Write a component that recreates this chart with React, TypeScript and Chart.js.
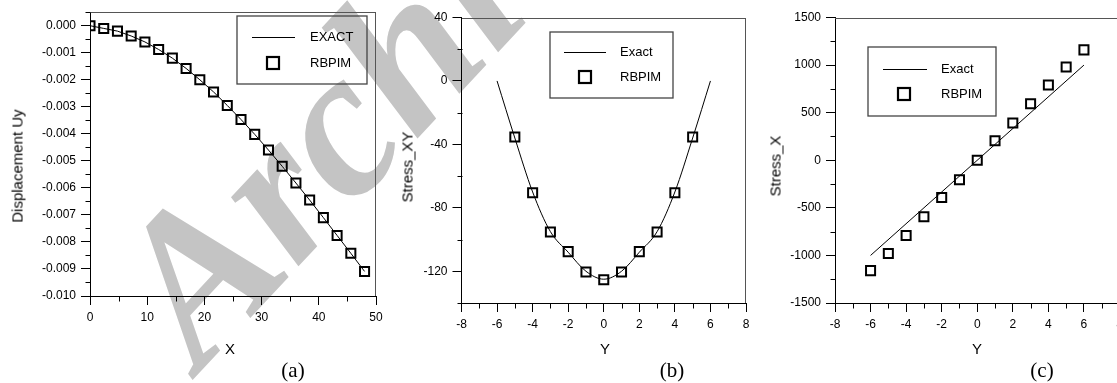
import React, { useEffect, useRef } from 'react';
import { Chart, registerables } from 'chart.js';

Chart.register(...registerables);

// ---------- Panel (a): Displacement Uy vs X ----------
const A_X = [0, 2.4, 4.8, 7.2, 9.6, 12, 14.4, 16.8, 19.2, 21.6, 24, 26.4, 28.8, 31.2, 33.6, 36, 38.4, 40.8, 43.2, 45.6, 48];
const A_RBPIM = [0, -0.0001, -0.0002, -0.00038, -0.0006, -0.00088, -0.0012, -0.00158, -0.002, -0.00245, -0.00295, -0.00347, -0.00402, -0.0046, -0.0052, -0.00582, -0.00645, -0.0071, -0.00776, -0.00842, -0.00909];
const A_EXACT = [0, -0.0001, -0.0002, -0.00038, -0.0006, -0.00088, -0.0012, -0.00158, -0.002, -0.00245, -0.00295, -0.00347, -0.00402, -0.0046, -0.0052, -0.00582, -0.00645, -0.0071, -0.00776, -0.00842, -0.00909];
const A_X_TICKS = [0, 10, 20, 30, 40, 50];
const A_X_MINOR = [5, 15, 25, 35, 45];
const A_Y_TICKS = [0, -0.001, -0.002, -0.003, -0.004, -0.005, -0.006, -0.007, -0.008, -0.009, -0.01];
const A_Y_MINOR = [0.0005, -0.0005, -0.0015, -0.0025, -0.0035, -0.0045, -0.0055, -0.0065, -0.0075, -0.0085, -0.0095];

// ---------- Panel (b): Stress_XY vs Y ----------
const B_Y_EXACT = [-6, -5, -4, -3, -2, -1, 0, 1, 2, 3, 4, 5, 6];
const B_EXACT = [0, -36, -70, -95, -108, -120, -125, -120, -108, -95, -70, -36, 0];
const B_Y_PTS = [-5, -4, -3, -2, -1, 0, 1, 2, 3, 4, 5];
const B_RBPIM = [-35.4, -70.5, -95.2, -107.6, -120.4, -125.3, -120.4, -107.6, -95.2, -70.5, -35.4];
const B_X_TICKS = [-8, -6, -4, -2, 0, 2, 4, 6, 8];
const B_X_MINOR = [-7, -5, -3, -1, 1, 3, 5, 7];
const B_Y_TICKS = [40, 0, -40, -80, -120];
const B_Y_MINOR = [20, -20, -60, -100, -140];

// ---------- Panel (c): Stress_X vs Y ----------
const C_Y_EXACT = [-6, 6];
const C_EXACT = [-1000, 1000];
const C_Y_PTS = [-6, -5, -4, -3, -2, -1, 0, 1, 2, 3, 4, 5, 6];
const C_RBPIM = [-1160, -980, -790, -593, -392, -205, 0, 205, 392, 593, 790, 980, 1160];
const C_X_TICKS = [-8, -6, -4, -2, 0, 2, 4, 6, 8];
const C_X_MINOR = [-7, -5, -3, -1, 1, 3, 5, 7];
const C_Y_TICKS = [1500, 1000, 500, 0, -500, -1000, -1500];
const C_Y_MINOR = [1250, 750, 250, -250, -750, -1250];

const SANS = '"Liberation Sans", Arial, sans-serif';
const SERIF = '"Liberation Serif", "Times New Roman", serif';

const framePlugin = {
  id: 'frame',
  afterDraw(chart: any, _args: any, opts: any) {
    const { ctx, chartArea } = chart;
    const { left, right, top, bottom } = chartArea;
    const xs = chart.scales.x;
    const ys = chart.scales.y;
    ctx.save();
    ctx.strokeStyle = '#555';
    ctx.lineWidth = 1;
    ctx.beginPath();
    const t = Math.round(top) + 0.5;
    const r = Math.round(right) - 0.5;
    ctx.moveTo(Math.round(left), t);
    ctx.lineTo(Math.round(right), t);
    ctx.moveTo(r, t);
    ctx.lineTo(r, Math.round(bottom));
    ctx.stroke();
    ctx.strokeStyle = '#000';
    ctx.beginPath();
    const b = Math.round(bottom) + 0.5;
    const l = Math.round(left) + 0.5;
    (opts.xMinor || []).forEach((v: number) => {
      const px = Math.round(xs.getPixelForValue(v)) + 0.5;
      ctx.moveTo(px, b);
      ctx.lineTo(px, b + 5);
    });
    (opts.yMinor || []).forEach((v: number) => {
      const py = Math.round(ys.getPixelForValue(v)) + 0.5;
      ctx.moveTo(l, py);
      ctx.lineTo(l - 5, py);
    });
    ctx.stroke();
    const lg = opts.legend;
    if (lg) {
      const ds = chart.data.datasets;
      ctx.strokeStyle = '#444';
      ctx.lineWidth = 1.3;
      ctx.strokeRect(lg.x, lg.y, lg.w, lg.h);
      ctx.strokeStyle = '#000';
      ctx.lineWidth = 1;
      ctx.beginPath();
      ctx.moveTo(lg.lineX1, lg.row1 + 0.5);
      ctx.lineTo(lg.lineX2, lg.row1 + 0.5);
      ctx.stroke();
      ctx.lineWidth = 2.2;
      ctx.strokeRect(lg.sqX - 6, lg.row2 - 6, 12, 12);
      ctx.fillStyle = '#000';
      ctx.font = `13px ${SANS}`;
      ctx.textBaseline = 'middle';
      ctx.textAlign = 'left';
      ctx.fillText(ds[0].label, lg.textX, lg.row1);
      ctx.fillText(ds[1].label, lg.textX, lg.row2);
    }
    ctx.restore();
  },
};

type PanelProps = {
  left: number;
  width: number;
  height: number;
  padTop: number;
  padRight: number;
  yWidth: number;
  xHeight: number;
  xMin: number;
  xMax: number;
  yMin: number;
  yMax: number;
  xTicks: number[];
  xMinor: number[];
  yTicks: number[];
  yMinor: number[];
  yFmt: (v: number) => string;
  lineX: number[];
  lineY: number[];
  ptsX: number[];
  ptsY: number[];
  labels: string[];
  smooth: boolean;
  legend: any;
};

function Panel(p: PanelProps) {
  const ref = useRef<HTMLCanvasElement | null>(null);
  useEffect(() => {
    if (!ref.current) return;
    const tickFont = { family: SANS, size: 12 };
    const chart = new Chart(ref.current, {
      type: 'scatter',
      data: {
        datasets: [
          {
            label: p.labels[0],
            data: p.lineX.map((x, i) => ({ x, y: p.lineY[i] })),
            showLine: true,
            borderColor: '#000',
            borderWidth: 1,
            pointRadius: 0,
            fill: false,
            cubicInterpolationMode: p.smooth ? 'monotone' : 'default',
          } as any,
          {
            label: p.labels[1],
            data: p.ptsX.map((x, i) => ({ x, y: p.ptsY[i] })),
            showLine: false,
            pointStyle: 'rect',
            pointRadius: 6.4,
            borderWidth: 2,
            borderColor: '#000',
            backgroundColor: 'rgba(0,0,0,0)',
          } as any,
        ],
      },
      options: {
        animation: false,
        responsive: false,
        devicePixelRatio: 1,
        events: [],
        layout: { padding: { top: p.padTop, right: p.padRight, left: 0, bottom: 0 } },
        plugins: {
          legend: { display: false },
          tooltip: { enabled: false },
          frame: { xMinor: p.xMinor, yMinor: p.yMinor, legend: p.legend },
        } as any,
        scales: {
          x: {
            type: 'linear',
            min: p.xMin,
            max: p.xMax,
            afterBuildTicks: (s: any) => {
              s.ticks = p.xTicks.map((v) => ({ value: v }));
            },
            afterFit: (s: any) => {
              s.height = p.xHeight;
            },
            ticks: {
              font: tickFont,
              color: '#000',
              padding: 5,
              maxRotation: 0,
              autoSkip: false,
              callback: (v: any) => String(v),
            },
            grid: { drawOnChartArea: false, drawTicks: true, tickLength: 9, color: '#000', tickColor: '#000' },
            border: { display: true, color: '#000', width: 1 },
          },
          y: {
            type: 'linear',
            min: p.yMin,
            max: p.yMax,
            afterBuildTicks: (s: any) => {
              s.ticks = p.yTicks.map((v) => ({ value: v }));
            },
            afterFit: (s: any) => {
              s.width = p.yWidth;
            },
            ticks: {
              font: tickFont,
              color: '#000',
              padding: 5,
              autoSkip: false,
              callback: (v: any) => p.yFmt(Number(v)),
            },
            grid: { drawOnChartArea: false, drawTicks: true, tickLength: 9, color: '#000', tickColor: '#000' },
            border: { display: true, color: '#000', width: 1 },
          },
        },
      },
      plugins: [framePlugin as any],
    });
    return () => chart.destroy();
  }, []);
  return (
    <canvas
      ref={ref}
      width={p.width}
      height={p.height}
      style={{ position: 'absolute', left: p.left, top: 0, width: p.width, height: p.height }}
    />
  );
}

function Label(props: { text: string; x: number; y: number; size: number; font: string; rotate?: boolean }) {
  return (
    <div
      style={{
        position: 'absolute',
        left: props.x,
        top: props.y,
        transform: `translate(-50%, -50%)${props.rotate ? ' rotate(-90deg)' : ''}`,
        fontFamily: props.font,
        fontSize: props.size,
        lineHeight: 1,
        whiteSpace: 'nowrap',
        color: '#000',
      }}
    >
      {props.text}
    </div>
  );
}

export default function App() {
  return (
    <div
      style={{
        position: 'fixed',
        left: 0,
        top: 0,
        width: 1117,
        height: 383,
        overflow: 'hidden',
        background: '#fff',
      }}
    >
      <div
        style={{
          position: 'absolute',
          left: 200,
          top: 372,
          transformOrigin: '0 0',
          transform: 'rotate(-47deg) translate(0, -176px)',
          fontFamily: SERIF,
          fontWeight: 'bold',
          fontStyle: 'italic',
          fontSize: 210,
          lineHeight: 1,
          color: '#c4c4c4',
          whiteSpace: 'nowrap',
        }}
      >
        Archive
      </div>
      <Panel
        left={0}
        width={400}
        height={340}
        padTop={10}
        padRight={24}
        yWidth={90}
        xHeight={44}
        xMin={0}
        xMax={50}
        yMin={-0.01}
        yMax={0.0005}
        xTicks={A_X_TICKS}
        xMinor={A_X_MINOR}
        yTicks={A_Y_TICKS}
        yMinor={A_Y_MINOR}
        yFmt={(v) => v.toFixed(3)}
        lineX={A_X}
        lineY={A_EXACT}
        ptsX={A_X}
        ptsY={A_RBPIM}
        labels={['EXACT', 'RBPIM']}
        smooth={false}
        legend={{ x: 237, y: 16, w: 130, h: 68, lineX1: 252, lineX2: 295, row1: 37, row2: 63, sqX: 273, textX: 310 }}
      />
      <Panel
        left={380}
        width={380}
        height={340}
        padTop={17.5}
        padRight={14}
        yWidth={81.5}
        xHeight={37}
        xMin={-8}
        xMax={8}
        yMin={-140}
        yMax={40}
        xTicks={B_X_TICKS}
        xMinor={B_X_MINOR}
        yTicks={B_Y_TICKS}
        yMinor={B_Y_MINOR}
        yFmt={(v) => String(Math.round(v))}
        lineX={B_Y_EXACT}
        lineY={B_EXACT}
        ptsX={B_Y_PTS}
        ptsY={B_RBPIM}
        labels={['Exact', 'RBPIM']}
        smooth={true}
        legend={{ x: 170, y: 32, w: 123, h: 66, lineX1: 184, lineX2: 226, row1: 52, row2: 77, sqX: 205, textX: 240 }}
      />
      <Panel
        left={760}
        width={380}
        height={340}
        padTop={17.5}
        padRight={20.5}
        yWidth={75}
        xHeight={37}
        xMin={-8}
        xMax={8}
        yMin={-1500}
        yMax={1500}
        xTicks={C_X_TICKS}
        xMinor={C_X_MINOR}
        yTicks={C_Y_TICKS}
        yMinor={C_Y_MINOR}
        yFmt={(v) => String(Math.round(v))}
        lineX={C_Y_EXACT}
        lineY={C_EXACT}
        ptsX={C_Y_PTS}
        ptsY={C_RBPIM}
        labels={['Exact', 'RBPIM']}
        smooth={false}
        legend={{ x: 108, y: 47, w: 128, h: 69, lineX1: 123, lineX2: 167, row1: 69, row2: 94, sqX: 144, textX: 181 }}
      />
      <Label text="Displacement Uy" x={17} y={166} size={15} font={SANS} rotate />
      <Label text="X" x={230} y={348} size={15} font={SANS} />
      <Label text="(a)" x={293} y={370} size={21} font={SERIF} />
      <Label text="Stress_XY" x={407} y={167} size={15} font={SANS} rotate />
      <Label text="Y" x={605} y={348} size={15} font={SANS} />
      <Label text="(b)" x={672} y={370} size={21} font={SERIF} />
      <Label text="Stress_X" x={775} y={166} size={15} font={SANS} rotate />
      <Label text="Y" x={977} y={348} size={15} font={SANS} />
      <Label text="(c)" x={1042} y={370} size={21} font={SERIF} />
    </div>
  );
}
